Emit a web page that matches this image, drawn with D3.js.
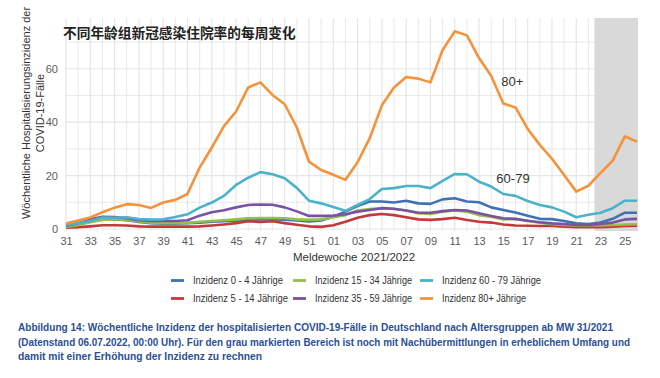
<!DOCTYPE html>
<html><head><meta charset="utf-8">
<script src="https://cdn.jsdelivr.net/npm/d3@7"></script>
<style>body{margin:0;background:#fff}svg{display:block}</style>
</head><body><svg id="c" width="660" height="378"></svg>
<script>
const weeks = ["31","32","33","34","35","36","37","38","39","40","41","42","43","44","45","46","47","48","49","50","51","52",
  "01","02","03","04","05","06","07","08","09","10","11","12","13","14","15","16","17","18","19","20","21","22","23","24","25","26"];
const tickWeeks = ["31","33","35","37","39","41","43","45","47","49","51","01","03","05","07","09","11","13","15","17","19","21","23","25"];
const yTicks = [0,20,40,60];
const inc04 = [1.0,1.8,3.0,3.8,3.6,3.3,2.6,2.2,2.0,2.0,2.2,2.4,2.7,2.9,3.1,3.4,3.6,3.6,3.5,3.2,2.8,3.2,
  4.6,6.5,8.6,10.3,10.3,9.9,10.6,9.6,9.4,11.1,11.5,10.3,10.0,8.1,7.1,6.2,5.0,3.8,3.7,3.0,2.1,1.9,2.4,3.8,6.1,6.1];
const inc514 = [0.5,0.7,1.0,1.4,1.4,1.3,1.0,0.9,0.9,0.9,0.9,1.0,1.3,1.7,2.2,2.9,2.6,2.9,2.2,1.6,1.0,0.8,
  1.4,2.7,4.2,5.2,5.6,5.2,4.4,3.6,3.4,3.7,4.2,3.4,2.7,2.4,1.7,1.3,1.2,1.1,1.1,0.9,0.7,0.7,0.7,0.9,1.1,1.2];
const inc1534 = [0.8,1.5,2.5,3.4,3.7,3.4,2.8,2.4,2.2,2.2,2.3,2.7,3.0,3.3,3.6,4.0,4.1,4.1,4.0,3.6,3.4,3.6,
  4.4,5.2,6.9,7.5,7.8,7.5,6.9,5.9,5.6,6.5,6.9,6.5,5.2,4.6,3.6,3.7,3.0,2.4,1.8,1.5,1.3,1.3,1.3,1.5,1.7,1.8];
const inc3559 = [1.2,2.2,3.6,4.6,4.5,4.0,3.3,3.0,3.0,3.0,3.3,5.0,6.3,7.0,8.1,9.0,9.2,9.1,8.1,6.6,4.9,4.9,
  5.0,5.5,6.5,7.1,7.8,7.6,6.9,6.1,6.1,6.7,7.1,6.9,5.9,4.9,4.0,3.8,3.1,2.5,2.1,1.9,1.5,1.5,1.9,2.4,3.6,3.8];
const inc6079 = [1.5,2.2,3.0,4.3,4.2,4.4,3.7,3.5,3.6,4.5,5.5,8.0,9.9,12.4,16.5,19.2,21.3,20.5,19.0,15.4,10.6,9.6,
  8.2,6.8,9.0,11.2,15.0,15.3,16.1,16.1,15.3,18.0,20.6,20.5,17.7,15.9,13.1,12.4,10.5,9.0,8.1,6.5,4.4,5.3,6.1,7.8,10.6,10.6];
const inc80 = [2.1,3.2,4.3,6.3,8.0,9.3,9.0,7.9,9.9,10.9,13.1,23.0,30.5,38.5,44.0,53.0,54.9,50.2,46.7,38.0,25.2,22.1,
  20.3,18.4,25.0,34.0,46.3,53.0,56.9,56.3,54.9,67.0,74.0,72.5,64.0,57.3,47.0,45.5,37.5,31.5,26.3,20.2,14.0,16.2,21.0,25.6,34.7,32.7];
const seriesNames = ["Inzidenz 0 - 4 Jährige","Inzidenz 5 - 14 Jährige","Inzidenz 15 - 34 Jährige","Inzidenz 35 - 59 Jährige","Inzidenz 60 - 79 Jährige","Inzidenz 80+ Jährige"];
const seriesColors = ["#3f72b4","#c43a3a","#93bf4a","#7a52a3","#4ab3c9","#f5923a"];
const seriesValues = [inc04, inc514, inc1534, inc3559, inc6079, inc80];
const preliminaryFrom = "23";
const titleText = "不同年龄组新冠感染住院率的每周变化";
const yTitle = ["Wöchentliche Hospitalisierungsinzidenz der", "COVID-19-Fälle"];
const xTitle = "Meldewoche 2021/2022";
const labels = [{text:"80+", week:"15", value:53.5}, {text:"60-79", week:"15", value:17.3}];
const caption = [
  "Abbildung  14: Wöchentliche  Inzidenz der hospitalisierten  COVID-19-Fälle in Deutschland  nach  Altersgruppen ab MW 31/2021",
  "(Datenstand  06.07.2022, 00:00 Uhr). Für den grau markierten Bereich ist noch mit Nachübermittlungen  in  erheblichem  Umfang und",
  "damit mit einer  Erhöhung der Inzidenz  zu rechnen"];

const svg = d3.select("#c");
const L = 66, R = 637, T = 18, B = 229;
const xi = d3.scaleLinear().domain([0, weeks.length-1]).range([L, R]);
const x = w => xi(weeks.indexOf(w));
const y = d3.scaleLinear().domain([0, 79]).range([B, T]);

// grid
const g = svg.append("g");
g.selectAll(".hg").data(d3.range(0, 80, 10)).join("line")
  .attr("x1", L).attr("x2", R).attr("y1", d=>y(d)).attr("y2", d=>y(d))
  .attr("stroke", "#e6e6e6").attr("stroke-width", d => d%20===0 ? 1.2 : 0.9);
g.selectAll(".vg").data(weeks).join("line")
  .attr("x1", d=>x(d)).attr("x2", d=>x(d)).attr("y1", T).attr("y2", B+2)
  .attr("stroke", "#e6e6e6").attr("stroke-width", (d,i)=> i%2===0 ? 1.2 : 0.9);

// shaded preliminary region
const si = weeks.indexOf(preliminaryFrom) - 0.5;
svg.append("rect").attr("x", xi(si)).attr("y", T).attr("width", R + 1 - xi(si)).attr("height", B + 2 - T)
  .attr("fill", "#d9d9d9");

// lines
const line = d3.line().x((d,i)=>xi(i)).y(d=>y(d));
seriesValues.forEach((vals, k) => {
  svg.append("path").datum(vals).attr("d", line).attr("fill","none")
    .attr("stroke", seriesColors[k]).attr("stroke-width", 2.6).attr("stroke-linejoin","round");
});

// axes
const xAxis = d3.axisBottom(d3.scalePoint().domain(weeks).range([L, R])).tickValues(tickWeeks).tickSize(0).tickPadding(6);
const xa = svg.append("g").attr("transform", `translate(0,${B+2})`).call(xAxis);
xa.select(".domain").remove();
xa.selectAll("text").attr("font-family","Liberation Sans, Arial, sans-serif").attr("font-size", 11).attr("fill","#5a5a5a");
const yAxis = d3.axisLeft(y).tickValues(yTicks).tickSize(0).tickPadding(6);
const ya = svg.append("g").attr("transform", `translate(${L-2},0)`).call(yAxis);
ya.select(".domain").remove();
ya.selectAll("text").attr("font-family","Liberation Sans, Arial, sans-serif").attr("font-size", 11).attr("fill","#5a5a5a");

// title
svg.append("text").attr("x", 63).attr("y", 38).text(titleText)
  .attr("font-family","Noto Sans CJK SC, sans-serif").attr("font-weight","bold").attr("font-size", 13.7).attr("fill","#222");

// y title
yTitle.forEach((t,i)=>{
  svg.append("text").attr("transform", `translate(${30 + i*14},${113}) rotate(-90)`)
    .attr("text-anchor","middle").text(t)
    .attr("font-family","Liberation Sans, Arial, sans-serif").attr("font-size", 11).attr("fill","#333");
});
// x title
svg.append("text").attr("x", 354).attr("y", 261).attr("text-anchor","middle").text(xTitle)
  .attr("font-family","Liberation Sans, Arial, sans-serif").attr("font-size", 11.5).attr("fill","#333");

// series labels
labels.forEach((l,i) => {
  svg.append("text").attr("x", x(l.week) + (i===1 ? -7 : -2)).attr("y", y(l.value)).text(l.text)
    .attr("font-family","Liberation Sans, Arial, sans-serif").attr("font-size", 13).attr("fill","#333");
});

// legend (3 columns x 2 rows, column-major)
const colX = [171, 293, 420], rowY = [284, 302];
const legW = [90, 95, 97, 97, 99, 84];
seriesNames.forEach((n,k)=>{
  const c = Math.floor(k/2), r = k%2;
  const lg = svg.append("g").attr("transform", `translate(${colX[c]},${rowY[r]})`);
  lg.append("line").attr("x1",0).attr("x2",13).attr("y1",-3.5).attr("y2",-3.5)
    .attr("stroke", seriesColors[k]).attr("stroke-width", 2.8);
  lg.append("text").attr("x", 22).attr("y", 0).text(n)
    .attr("textLength", legW[k]).attr("lengthAdjust","spacingAndGlyphs")
    .attr("font-family","Liberation Sans, Arial, sans-serif").attr("font-size", 10).attr("fill","#333");
});

// caption
const capW = [595, 612, 244];
caption.forEach((t,i)=>{
  svg.append("text").attr("x", 18).attr("y", 331 + i*14.5).text(t)
    .attr("textLength", capW[i]).attr("lengthAdjust","spacingAndGlyphs")
    .attr("font-family","Liberation Sans Narrow, Arial Narrow, sans-serif").attr("font-weight","bold")
    .attr("font-size", 10).attr("fill","#2b4f95");
});
</script></body></html>
